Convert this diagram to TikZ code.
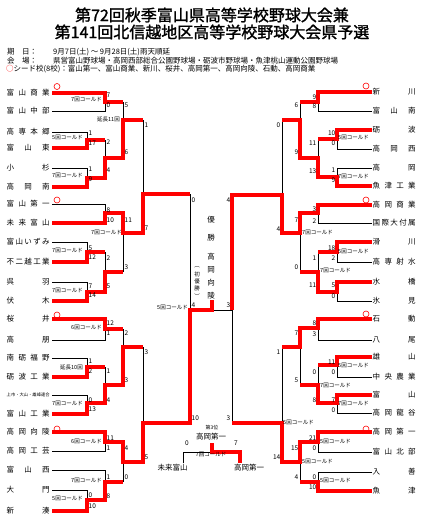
\documentclass[tikz,border=0pt]{standalone}
\usepackage{fontspec}
\newfontfamily\cjk{Noto Sans CJK JP}
\newfontfamily\cjkb[FakeBold=1.5]{Noto Sans CJK JP}
\newcommand\tnm[3]{\node[tn] (#1) at (#2) {\makebox[43pt]{#3}};}
\begin{document}
\begin{tikzpicture}[x=1pt,y=-1pt,
  blk/.style={line width=0.8pt,black},
  rdl/.style={line width=4pt,red,line join=miter},
  tn/.style={font=\cjk\fontsize{7.5}{8}\selectfont,inner sep=0pt,anchor=west},
  cn/.style={font=\cjk\fontsize{7.5}{8}\selectfont,inner sep=0pt},
  sm/.style={font=\cjk\fontsize{5.5}{6}\selectfont,inner sep=0pt},
  sc/.style={font=\cjk\fontsize{6.5}{7}\selectfont,inner sep=0pt},
  cg/.style={font=\cjk\fontsize{5.5}{6}\selectfont,inner sep=0pt},
  info/.style={font=\cjk\fontsize{7.5}{8}\selectfont,inner sep=0pt,anchor=west},
  ttl/.style={font=\cjkb\fontsize{16}{17}\selectfont,inner sep=0pt},
  seed/.style={draw=red,line width=0.6pt,circle,minimum size=6pt,inner sep=0pt}]
\fill[white] (0,0) rectangle (425,519);
\useasboundingbox (0,0) rectangle (425,519);
% titles
\node[ttl] (t1) at (212,15) {第72回秋季富山県高等学校野球大会兼};
\node[ttl] (t2) at (212,32) {第141回北信越地区高等学校野球大会県予選};
\node[info] (i1a) at (7,52) {期　日：};
\node[info] (i1b) at (53,52) {9月7日(土) ～ 9月28日(土)雨天順延};
\node[info] (i2a) at (7,60.5) {会　場：};
\node[info] (i2b) at (53,60.5) {県営富山野球場・高岡西部総合公園野球場・砺波市野球場・魚津桃山運動公園野球場};
\node[info] (i3) at (6,69) {\textcolor{red}{○}シード校(8校)：富山第一、富山商業、新川、桜井、高岡第一、高岡向陵、石動、高岡商業};
% left names
\tnm{l1}{6.5,93}{富\hfill 山\hfill 商\hfill 業}
\tnm{l2}{6.5,111}{富\hfill 山\hfill 中\hfill 部}
\tnm{l3}{6.5,132}{高\hfill 専\hfill 本\hfill 郷}
\tnm{l4}{6.5,148}{富\hfill 山\hfill 東}
\tnm{l5}{6.5,168}{小\hfill 杉}
\tnm{l6}{6.5,187}{高\hfill 岡\hfill 南}
\tnm{l7}{6.5,204}{富\hfill 山\hfill 第\hfill 一}
\tnm{l8}{6.5,223}{未\hfill 来\hfill 富\hfill 山}
\tnm{l9}{6.5,242}{富\hfill 山\hfill い\hfill ず\hfill み}
\tnm{l10}{6.5,262}{不\hfill 二\hfill 越\hfill 工\hfill 業}
\tnm{l11}{6.5,282}{呉\hfill 羽}
\tnm{l12}{6.5,301}{伏\hfill 木}
\tnm{l13}{6.5,319}{桜\hfill 井}
\tnm{l14}{6.5,340}{高\hfill 朋}
\tnm{l15}{6.5,358}{南\hfill 砺\hfill 福\hfill 野}
\tnm{l16}{6.5,377}{砺\hfill 波\hfill 工\hfill 業}
\node[font=\cjk\fontsize{4.3}{5}\selectfont,inner sep=0pt,anchor=west] (l17) at (6.5,395) {上市・大山・雄峰連合};
\tnm{l18}{6.5,414}{富\hfill 山\hfill 工\hfill 業}
\tnm{l19}{6.5,432}{高\hfill 岡\hfill 向\hfill 陵}
\tnm{l20}{6.5,451}{高\hfill 岡\hfill 工\hfill 芸}
\tnm{l21}{6.5,470}{富\hfill 山\hfill 西}
\tnm{l22}{6.5,490}{大\hfill 門}
\tnm{l23}{6.5,511}{新\hfill 湊}
% right names
\tnm{r1}{372.5,92}{新\hfill 川}
\tnm{r2}{372.5,111}{富\hfill 山\hfill 南}
\tnm{r3}{372.5,130}{砺\hfill 波}
\tnm{r4}{372.5,149}{高\hfill 岡\hfill 西}
\tnm{r5}{372.5,168}{高\hfill 岡}
\tnm{r6}{372.5,186}{魚\hfill 津\hfill 工\hfill 業}
\tnm{r7}{372.5,205}{高\hfill 岡\hfill 商\hfill 業}
\tnm{r8}{372.5,223}{国\hfill 際\hfill 大\hfill 付\hfill 属}
\tnm{r9}{372.5,242}{滑\hfill 川}
\tnm{r10}{372.5,262}{高\hfill 専\hfill 射\hfill 水}
\tnm{r11}{372.5,282}{水\hfill 橋}
\tnm{r12}{372.5,301}{氷\hfill 見}
\tnm{r13}{372.5,319}{石\hfill 動}
\tnm{r14}{372.5,340}{八\hfill 尾}
\tnm{r15}{372.5,357}{雄\hfill 山}
\tnm{r16}{372.5,377}{中\hfill 央\hfill 農\hfill 業}
\tnm{r17}{372.5,395}{富\hfill 山}
\tnm{r18}{372.5,413}{高\hfill 岡\hfill 龍\hfill 谷}
\tnm{r19}{372.5,432}{高\hfill 岡\hfill 第\hfill 一}
\tnm{r20}{372.5,452}{富\hfill 山\hfill 北\hfill 部}
\tnm{r21}{372.5,472}{入\hfill 善}
\tnm{r22}{372.5,491}{魚\hfill 津}
% seeds
\foreach \p [count=\i] in {{57,86.5},{57,200},{57,315},{57,429},{366,86},{366,200},{366,314},{366,429}}
  \node[seed] (sd\i) at (\p) {};
% ---------- black lines ----------
\draw[blk] (52,111)--(105,111)--(105,102);
\draw[blk] (52,132)--(87,132)--(87,140);
\draw[blk] (52,168)--(87,168)--(87,178);
\draw[blk] (52,204)--(105,204)--(105,213);
\draw[blk] (52,242)--(87,242)--(87,252);
\draw[blk] (52,282)--(87,282)--(87,292);
\draw[blk] (52,340)--(105,340)--(105,329);
\draw[blk] (52,358)--(87,358)--(87,367);
\draw[blk] (52,395)--(87,395)--(87,403);
\draw[blk] (52,451)--(105,451)--(105,442);
\draw[blk] (52,470)--(105,470)--(105,482);
\draw[blk] (52,490)--(87,490)--(87,500);
\draw[blk] (105,140)--(105,158);
\draw[blk] (123,102)--(123,120);
\draw[blk] (143,120)--(143,194);
\draw[blk] (105,252)--(105,272);
\draw[blk] (123,272)--(123,233);
\draw[blk] (105,367)--(105,385);
\draw[blk] (123,329)--(123,347);
\draw[blk] (123,482)--(123,462);
\draw[blk] (143,347)--(143,423);
\draw[blk] (190,194)--(190,310);
\draw[blk] (372,111)--(318,111)--(318,102);
\draw[blk] (372,149)--(337,149)--(337,139);
\draw[blk] (372,168)--(337,168)--(337,177);
\draw[blk] (372,223)--(318,223)--(318,213);
\draw[blk] (372,262)--(337,262)--(337,252);
\draw[blk] (372,301)--(337,301)--(337,292);
\draw[blk] (372,340)--(318,340)--(318,328);
\draw[blk] (372,377)--(337,377)--(337,365);
\draw[blk] (372,413)--(337,413)--(337,403);
\draw[blk] (372,452)--(318,452)--(318,442);
\draw[blk] (372,472)--(318,472)--(318,482);
\draw[blk] (318,139)--(318,158);
\draw[blk] (300,102)--(300,120);
\draw[blk] (282,120)--(282,195);
\draw[blk] (318,252)--(318,272);
\draw[blk] (300,272)--(300,233);
\draw[blk] (318,365)--(318,385);
\draw[blk] (300,385)--(300,347);
\draw[blk] (300,482)--(300,462);
\draw[blk] (282,347)--(282,423);
\draw[blk] (232,423)--(232,310)--(212,310);
\draw[blk] (183,463)--(183,452)--(212,452);
% ---------- red lines ----------
\draw[rdl] (52,93)--(105,93)--(105,102)--(123,102);
\draw[rdl] (52,148)--(87,148)--(87,140)--(105,140);
\draw[rdl] (52,187)--(87,187)--(87,178)--(105,178)--(105,158)--(123,158)--(123,120)--(143,120);
\draw[rdl] (52,223)--(105,223)--(105,213)--(123,213)--(123,233)--(143,233)--(143,194)--(190,194);
\draw[rdl] (52,262)--(87,262)--(87,252)--(105,252);
\draw[rdl] (52,301)--(87,301)--(87,292)--(105,292)--(105,272)--(123,272);
\draw[rdl] (52,319)--(105,319)--(105,329)--(123,329);
\draw[rdl] (52,377)--(87,377)--(87,367)--(105,367);
\draw[rdl] (52,414)--(87,414)--(87,403)--(105,403)--(105,385)--(123,385)--(123,347)--(143,347);
\draw[rdl] (52,432)--(105,432)--(105,442)--(123,442)--(123,462)--(143,462)--(143,423)--(190,423)--(190,310)--(212,310)--(212,300);
\draw[rdl] (52,511)--(87,511)--(87,500)--(105,500)--(105,482)--(123,482);
\draw[rdl] (372,92)--(318,92)--(318,102)--(300,102);
\draw[rdl] (372,130)--(337,130)--(337,139)--(318,139);
\draw[rdl] (372,186)--(337,186)--(337,177)--(318,177)--(318,158)--(300,158)--(300,120)--(282,120);
\draw[rdl] (372,205)--(318,205)--(318,213)--(300,213)--(300,233)--(282,233)--(282,195)--(232,195)--(232,310);
\draw[rdl] (372,242)--(337,242)--(337,252)--(318,252);
\draw[rdl] (372,282)--(337,282)--(337,292)--(318,292)--(318,272)--(300,272);
\draw[rdl] (372,319)--(318,319)--(318,328)--(300,328)--(300,347)--(282,347);
\draw[rdl] (372,357)--(337,357)--(337,365)--(318,365);
\draw[rdl] (372,395)--(337,395)--(337,403)--(318,403)--(318,385)--(300,385);
\draw[rdl] (372,432)--(318,432)--(318,442)--(300,442)--(300,462)--(282,462)--(282,423)--(232,423);
\draw[rdl] (372,491)--(318,491)--(318,482)--(300,482);
\draw[rdl] (212,443)--(212,452)--(240,452)--(240,463);
% ---------- scores left ----------
\foreach \x/\y/\t [count=\i] in {106.5/95/7,106.5/105/0,124.5/105/5,124.5/152/6,144.5/125/1,
  88.5/133/1,88.5/143/17,106.5/142/2,88.5/169/1,88.5/179/9,106.5/170/4,
  106.5/210/8,106.5/220/10,124.5/220/11,144.5/228/7,
  88.5/248/5,88.5/257/12,106.5/258/2,124.5/267/3,88.5/286/7,106.5/286/5,88.5/295/14,
  106.5/323/12,106.5/333/1,124.5/333/2,144.5/352/3,
  88.5/361/1,88.5/371/2,106.5/371/1,124.5/380/3,
  88.5/400/0,106.5/400/4,88.5/409/13,
  106.5/438/11,106.5/448/1,124.5/448/4,144.5/457/5,
  106.5/477/1,124.5/477/0,88.5/495/0,106.5/496/8,88.5/506/10,
  191.5/200/0,191.5/418/10,191.5/305/4}
  \node[sc,anchor=west] (sl\i) at (\x,\y) {\t};
% ---------- scores right ----------
\foreach \x/\y/\t [count=\i] in {316.5/97/9,316.5/106/8,298.5/105/6,280.5/125/0,
  335.5/133/10,335.5/143/0,316.5/143/11,298.5/152/9,316.5/171/13,335.5/170/1,335.5/180/9,
  316.5/209/3,316.5/221/2,298.5/220/7,280.5/229/4,
  335.5/248/18,335.5/258/2,316.5/258/1,298.5/267/0,316.5/285/11,335.5/285/5,335.5/296/0,
  316.5/323/8,316.5/334/3,298.5/333/7,280.5/352/1,
  335.5/362/11,335.5/372/0,316.5/372/0,298.5/380/5,
  316.5/400/8,335.5/400/7,335.5/410/0,
  316.5/438/21,316.5/448/0,298.5/448/15,280.5/457/14,
  298.5/477/4,316.5/477/0,316.5/487/10,
  230.5/200/4,230.5/418/3,230.5/305/3}
  \node[sc,anchor=east] (sr\i) at (\x,\y) {\t};
% ---------- called-game labels ----------
\foreach \x/\y/\t [count=\i] in {102/100/7回コールド,83/138/5回コールド,83/176/7回コールド,
  120/119/延長11回,122/233/7回コールド,83/251/7回コールド,83/291/7回コールド,
  102/328/6回コールド,83/367/延長10回,83/404/7回コールド,102/442/6回コールド,
  102/481/7回コールド,83/499/5回コールド,188/308/5回コールド}
  \node[cg,anchor=east] (cl\i) at (\x,\y) {\t};
\foreach \x/\y/\t [count=\i] in {338/138/5回コールド,338/177/7回コールド,302/233/7回コールド,
  338/252/5回コールド,320/271/7回コールド,338/366/5回コールド,320/386/7回コールド,
  338/404/7回コールド,283/423/5回コールド,320/442/5回コールド,302/462/5回コールド,
  320/481/5回コールド}
  \node[cg,anchor=west] (cr\i) at (\x,\y) {\t};
% ---------- champion ----------
\foreach \y/\t [count=\i] in {220/優,238/勝,257/高,270/岡,283/向,296/陵}
  \node[cn] (ch\i) at (211,\y) {\t};
\foreach \y/\t [count=\i] in {267/︵,274/初,281/優,288/勝,296/︶}
  \node[sm] (fi\i) at (197,\y) {\t};
% ---------- third place ----------
\node[font=\cjk\fontsize{5}{5}\selectfont,inner sep=0pt] (th0) at (212,428) {第3位};
\node[cn] (th1) at (211,437) {高岡第一};
\node[sc] (th2) at (187,443) {0};
\node[sc] (th3) at (236,443) {7};
\node[cg] (th4) at (211,455) {7回コールド};
\node[cn] (th5) at (172.5,468) {未来富山};
\node[cn] (th6) at (249,468) {高岡第一};
\end{tikzpicture}
\end{document}
